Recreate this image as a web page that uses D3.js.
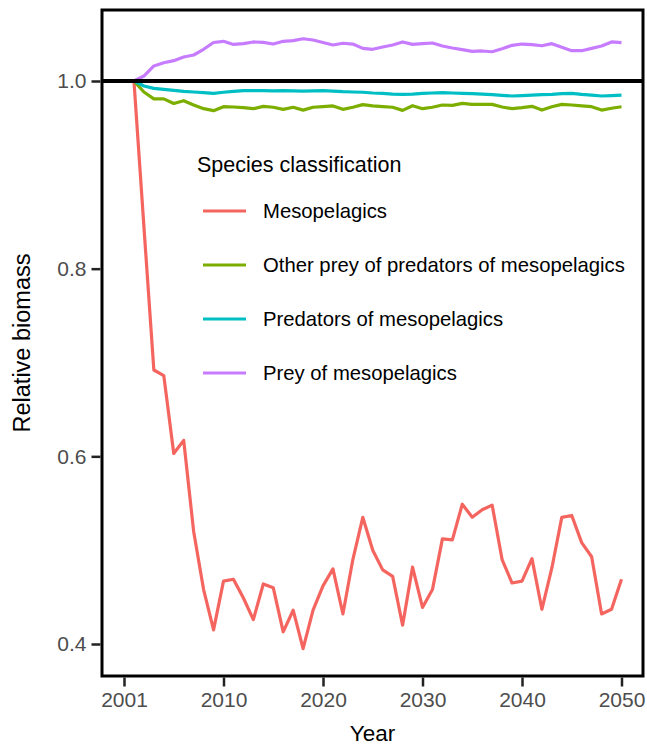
<!DOCTYPE html>
<html>
<head>
<meta charset="utf-8">
<script src="https://cdn.jsdelivr.net/npm/d3@7"></script>
<style>
  body { margin: 0; background: #fff; }
  text { font-family: "Liberation Sans", Arial, Helvetica, sans-serif; }
</style>
</head>
<body>
<svg id="chart" width="647" height="746"></svg>
<script>
// data
const years = d3.range(2001, 2051);

const seriesNames = ["Mesopelagics", "Other prey of predators of mesopelagics", "Predators of mesopelagics", "Prey of mesopelagics"];
const seriesColors = ["#F5655F", "#7CAE00", "#00BFC4", "#C77CFF"];

const mesopelagics = [1.0, 0.845, 0.692, 0.686, 0.603, 0.617, 0.52, 0.458, 0.415, 0.467,
  0.469, 0.449, 0.426, 0.464, 0.460, 0.413, 0.436, 0.395, 0.436, 0.462,
  0.480, 0.432, 0.49, 0.535, 0.500, 0.479, 0.472, 0.420, 0.482, 0.439,
  0.458, 0.512, 0.511, 0.549, 0.535, 0.543, 0.548, 0.490, 0.465, 0.467,
  0.491, 0.437, 0.481, 0.535, 0.537, 0.508, 0.493, 0.432, 0.437, 0.469];

const otherPrey = [1.0, 0.9883, 0.981, 0.981, 0.976, 0.979, 0.9744, 0.9705, 0.9684, 0.9726,
  0.9723, 0.9716, 0.9705, 0.973, 0.972, 0.9698, 0.972, 0.969, 0.972, 0.9726,
  0.9734, 0.9698, 0.972, 0.9748, 0.9734, 0.9726, 0.972, 0.9687, 0.9737, 0.9705,
  0.972, 0.9744, 0.974, 0.9762, 0.9751, 0.9751, 0.9751, 0.9723, 0.9705, 0.9716,
  0.973, 0.969, 0.9726, 0.9751, 0.9744, 0.9734, 0.9726, 0.969, 0.971, 0.9726];

const predators = [1.0, 0.9947, 0.9922, 0.991, 0.990, 0.989, 0.9883, 0.9876, 0.9869, 0.988,
  0.989, 0.9897, 0.9897, 0.9897, 0.9895, 0.9897, 0.9895, 0.9893, 0.9895, 0.9897,
  0.9893, 0.9886, 0.9883, 0.988, 0.9872, 0.9869, 0.9861, 0.9858, 0.9861, 0.9869,
  0.9872, 0.9876, 0.9872, 0.9869, 0.9865, 0.9861, 0.9854, 0.9847, 0.984, 0.9844,
  0.985, 0.9854, 0.9858, 0.9865, 0.9869, 0.9858, 0.985, 0.984, 0.9844, 0.985];

const prey = [1.0, 1.0053, 1.016, 1.0195, 1.0217, 1.0256, 1.0277, 1.0338, 1.041, 1.0423,
  1.039, 1.0398, 1.0416, 1.0412, 1.0394, 1.0423, 1.043, 1.045, 1.0437, 1.041,
  1.0384, 1.0402, 1.0394, 1.0348, 1.0338, 1.0362, 1.0384, 1.0416, 1.039, 1.0398,
  1.0405, 1.0373, 1.0352, 1.0334, 1.0316, 1.032, 1.0312, 1.0344, 1.038, 1.0394,
  1.0387, 1.0376, 1.0398, 1.0359, 1.0323, 1.0323, 1.0348, 1.0373, 1.0416, 1.041];

const xTicks = [2000, 2010, 2020, 2030, 2040, 2050];
const xTickLabels = ["2001", "2010", "2020", "2030", "2040", "2050"];
const yTicks = [0.4, 0.6, 0.8, 1.0];

const allSeries = [mesopelagics, otherPrey, predators, prey];

// layout
const panel = {left: 102, right: 643, top: 10, bottom: 676};

const x = d3.scaleLinear().domain([2000, 2050]).range([124, 621.5]);
const y = d3.scaleLinear().domain([0.4, 1.0]).range([644, 81]);

const svg = d3.select("#chart");

const line = d3.line()
  .x((d, i) => x(years[i]))
  .y(d => y(d));

// series lines
svg.append("g")
  .selectAll("path")
  .data(allSeries)
  .enter()
  .append("path")
  .attr("d", d => line(d))
  .attr("fill", "none")
  .attr("stroke", (d, i) => seriesColors[i])
  .attr("stroke-width", 3.2)
  .attr("stroke-linejoin", "round");

// reference line at 1
svg.append("line")
  .attr("x1", panel.left).attr("x2", panel.right)
  .attr("y1", y(1)).attr("y2", y(1))
  .attr("stroke", "#000")
  .attr("stroke-width", 4);

// panel border
svg.append("rect")
  .attr("x", panel.left).attr("y", panel.top)
  .attr("width", panel.right - panel.left)
  .attr("height", panel.bottom - panel.top)
  .attr("fill", "none")
  .attr("stroke", "#000")
  .attr("stroke-width", 3);

// axes
const axeX = d3.axisBottom(x)
  .tickValues(xTicks)
  .tickFormat((d, i) => xTickLabels[i])
  .tickSize(9)
  .tickPadding(6);

const axeY = d3.axisLeft(y)
  .tickValues(yTicks)
  .tickFormat(d3.format(".1f"))
  .tickSize(9)
  .tickPadding(5);

const groupeX = svg.append("g")
  .attr("transform", `translate(0,${panel.bottom + 1.5})`)
  .call(axeX);
const groupeY = svg.append("g")
  .attr("transform", `translate(${panel.left - 1.5},0)`)
  .call(axeY);

[groupeX, groupeY].forEach(g => {
  g.select(".domain").remove();
  g.selectAll(".tick line").attr("stroke", "#222").attr("stroke-width", 2.5);
  g.selectAll(".tick text")
    .attr("fill", "#4d4d4d")
    .style("font-size", "21px")
    .style("font-family", "'Liberation Sans', Arial, sans-serif");
});

// axis titles
svg.append("text")
  .attr("x", (panel.left + panel.right) / 2)
  .attr("y", 741)
  .attr("text-anchor", "middle")
  .style("font-size", "22.5px")
  .text("Year");

svg.append("text")
  .attr("transform", `translate(30,${(panel.top + panel.bottom) / 2}) rotate(-90)`)
  .attr("text-anchor", "middle")
  .style("font-size", "23.5px")
  .text("Relative biomass");

// legend
const legend = svg.append("g");
legend.append("text")
  .attr("x", 197).attr("y", 172)
  .style("font-size", "21.5px")
  .text("Species classification");

const items = legend.selectAll(".item")
  .data(seriesNames)
  .enter()
  .append("g")
  .attr("transform", (d, i) => `translate(0,${211 + i * 54})`);

items.append("line")
  .attr("x1", 203).attr("x2", 246)
  .attr("stroke", (d, i) => seriesColors[i])
  .attr("stroke-width", 3.2);

items.append("text")
  .attr("x", 263).attr("y", 0)
  .attr("dy", "0.36em")
  .style("font-size", "20.3px")
  .text(d => d);
</script>
</body>
</html>
